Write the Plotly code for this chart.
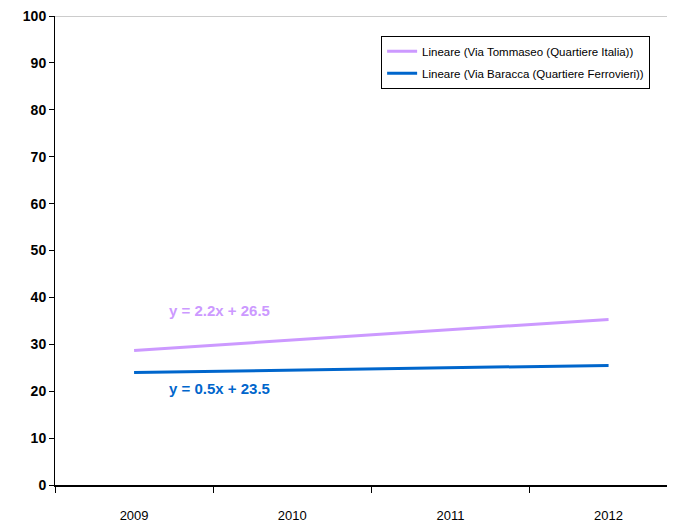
import plotly.graph_objects as go

years = ["2009", "2010", "2011", "2012"]
x_pos = [1, 2, 3, 4]
tommaseo = [28.7, 30.9, 33.1, 35.3]
baracca = [24.0, 24.5, 25.0, 25.5]
y_ticks = list(range(0, 101, 10))

lavender = "rgb(204,153,255)"
blue = "#0066CC"
font_family = "Liberation Sans, Arial, sans-serif"

fig = go.Figure()
fig.add_trace(go.Scatter(
    x=x_pos, y=tommaseo, mode="lines",
    line=dict(color=lavender, width=3),
    name="Lineare (Via Tommaseo (Quartiere Italia))",
    legendgroup="a",
))
fig.add_trace(go.Scatter(
    x=x_pos, y=baracca, mode="lines",
    line=dict(color=blue, width=3),
    name="Lineare (Via Baracca (Quartiere Ferrovieri))",
    legendgroup="b",
))

# trendline equations
fig.add_annotation(x=1.21, y=37.3, text="<b>y = 2.2x + 26.5</b>", showarrow=False,
                   xanchor="left", font=dict(color=lavender, size=15, family=font_family))
fig.add_annotation(x=1.21, y=20.6, text="<b>y = 0.5x + 23.5</b>", showarrow=False,
                   xanchor="left", font=dict(color=blue, size=15, family=font_family))

# top border of plot area
fig.add_shape(type="line", xref="paper", yref="y", x0=0, x1=1, y0=100, y1=100,
              line=dict(color="#999999", width=1))

fig.update_xaxes(
    range=[0.5, 4.42],
    tickmode="array", tickvals=x_pos, ticktext=years,
    showgrid=False, zeroline=False,
    showline=True, linecolor="black", linewidth=1.5,
    ticks="", ticklabelstandoff=18,
    tickfont=dict(size=13, color="black", family=font_family),
    minor=dict(tickmode="array", tickvals=[0.5, 1.5, 2.5, 3.5], ticks="outside",
               ticklen=6, tickcolor="black", tickwidth=1),
)
fig.update_yaxes(
    range=[0, 100],
    tickmode="array", tickvals=y_ticks,
    ticktext=[f"<b>{v}</b>" for v in y_ticks],
    showgrid=False, zeroline=False,
    showline=True, linecolor="black", linewidth=1,
    ticks="outside", ticklen=5, tickcolor="black",
    ticklabeloverflow="allow",
    tickfont=dict(size=14, color="black", family=font_family),
)

# page body adds an 8px margin, so the figure is shifted and shrunk to compensate
fig.update_layout(
    width=667, height=519,
    margin=dict(l=47, r=0, t=6, b=42),
    plot_bgcolor="white", paper_bgcolor="white",
    showlegend=True,
    legend=dict(
        x=0.526, y=0.958, xanchor="left", yanchor="top",
        bordercolor="black", borderwidth=1, bgcolor="white",
        font=dict(size=11.5, color="black", family=font_family),
        tracegroupgap=3, itemwidth=30,
    ),
)

fig.write_html("out.html")
